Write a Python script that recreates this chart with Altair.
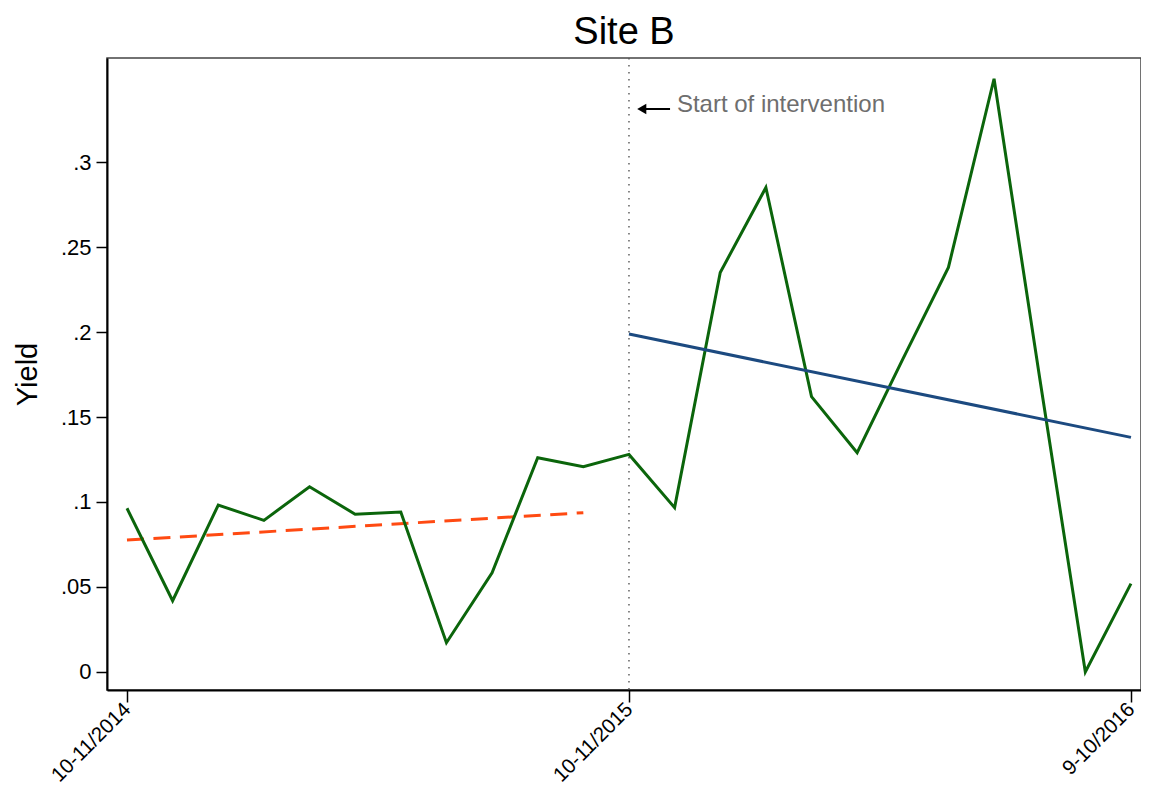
import altair as alt
import pandas as pd

# ---- data ----
period_idx = list(range(23))
yield_vals = [0.0963, 0.0419, 0.0982, 0.0892, 0.109, 0.0928, 0.0941, 0.0172,
              0.0584, 0.126, 0.1208, 0.128, 0.0967, 0.235, 0.285, 0.162,
              0.129, 0.184, 0.238, 0.349, 0.173, 0.0, 0.052]
pre_fit_x = [0, 10]
pre_fit_y = [0.0776, 0.0937]
post_fit_x = [11, 22]
post_fit_y = [0.1988, 0.138]
tick_positions = [0, 11, 22]
tick_labels = ["10-11/2014", "10-11/2015", "9-10/2016"]
y_ticks = [0, 0.05, 0.1, 0.15, 0.2, 0.25, 0.3]
intervention_x = 11
annot_text = "Start of intervention"
annot_arrow_x = [11.25, 11.9]
annot_head_x = 11.28
annot_y = 0.3312
annot_text_x = 12.05
annot_text_y = 0.3335

FONT = "Liberation Sans"
PLOT_W = 1034
XDOM = [-0.438, 22.22]
YDOM = [-0.0106, 0.3612]

label_expr = " : ".join(
    [f"datum.value == {p} ? '{l}'" for p, l in zip(tick_positions, tick_labels)]
) + " : ''"

xs = alt.Scale(domain=XDOM, nice=False, zero=False)
ys = alt.Scale(domain=YDOM, nice=False, zero=False)

main_df = pd.DataFrame({"x": period_idx, "y": yield_vals})
pre_df = pd.DataFrame({"x": pre_fit_x, "y": pre_fit_y})
post_df = pd.DataFrame({"x": post_fit_x, "y": post_fit_y})

x_axis = alt.Axis(values=tick_positions, labelExpr=label_expr, labelAngle=315,
                  labelAlign="right", labelBaseline="middle", labelPadding=4,
                  title=None, grid=False, tickSize=12, labelFontSize=20.5,
                  labelFont=FONT, labelColor="black", domainColor="black",
                  domainWidth=2, tickColor="black", tickWidth=1.5)
y_axis = alt.Axis(values=y_ticks,
                  labelExpr="datum.value == 0 ? '0' : substring(format(datum.value, '.2~f'), 1)",
                  title="Yield", titleFontSize=29, titleFont=FONT,
                  titleFontWeight="normal", titleColor="black", titlePadding=18,
                  grid=False, tickSize=11, labelFontSize=22, labelFont=FONT,
                  labelColor="black", labelPadding=5, domainColor="black",
                  domainWidth=2, tickColor="black", tickWidth=1.5)

base_line = alt.Chart(main_df).mark_line(color="#0b650b", strokeWidth=3).encode(
    x=alt.X("x:Q", scale=xs, axis=x_axis),
    y=alt.Y("y:Q", scale=ys, axis=y_axis),
)

pre_line = alt.Chart(pre_df).mark_line(color="#ff4a12", strokeWidth=3,
                                       strokeDash=[17, 9.5]).encode(
    x=alt.X("x:Q", scale=xs), y=alt.Y("y:Q", scale=ys))

post_line = alt.Chart(post_df).mark_line(color="#1c4a80", strokeWidth=3).encode(
    x=alt.X("x:Q", scale=xs), y=alt.Y("y:Q", scale=ys))

vline = alt.Chart(pd.DataFrame({"x": [intervention_x]})).mark_rule(
    color="#555555", strokeWidth=1.4, strokeDash=[1.5, 5.5]).encode(
    x=alt.X("x:Q", scale=xs))

arrow_df = pd.DataFrame({"x": [annot_arrow_x[0]], "x2": [annot_arrow_x[1]], "y": [annot_y]})
arrow = alt.Chart(arrow_df).mark_rule(color="black", strokeWidth=2).encode(
    x=alt.X("x:Q", scale=xs), x2="x2:Q", y=alt.Y("y:Q", scale=ys))

head = alt.Chart(pd.DataFrame({"x": [annot_head_x], "y": [annot_y]})).mark_point(
    shape="triangle-left", filled=True, color="black", size=110, opacity=1).encode(
    x=alt.X("x:Q", scale=xs), y=alt.Y("y:Q", scale=ys))

label = alt.Chart(pd.DataFrame({"x": [annot_text_x], "y": [annot_text_y], "t": [annot_text]})).mark_text(
    align="left", baseline="middle", fontSize=24, font=FONT, color="#6e6e6e").encode(
    x=alt.X("x:Q", scale=xs), y=alt.Y("y:Q", scale=ys), text="t:N")

chart = alt.layer(vline, pre_line, base_line, post_line, arrow, head, label).properties(
    width=PLOT_W, height=632,
    title=alt.TitleParams("Site B", fontSize=38, font=FONT, fontWeight="normal",
                          color="black", anchor="middle", offset=5),
    autosize=alt.AutoSizeParams(type="none"),
    padding={"left": 99, "top": 50, "right": 0, "bottom": 98},
).configure_view(stroke="#444444", strokeWidth=1.5)

chart.save("out.html", embed_options={"renderer": "svg", "actions": False})
